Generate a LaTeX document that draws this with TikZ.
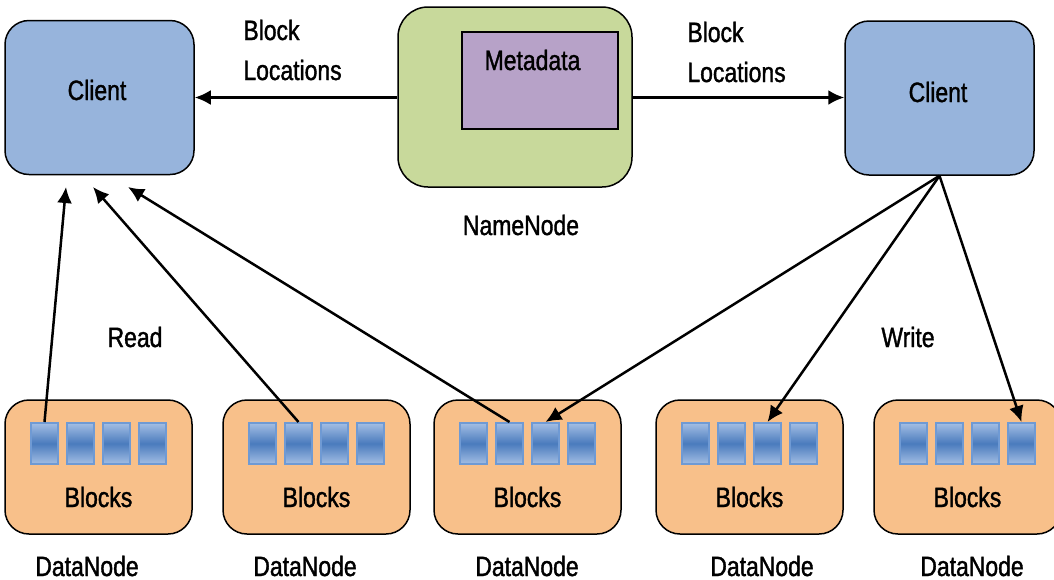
\documentclass[tikz,border=0pt]{standalone}
\usepackage{fontspec}
\setmainfont{Liberation Sans}[FakeStretch=0.82,FakeBold=1.3]
\usetikzlibrary{arrows.meta}
\definecolor{clientfill}{HTML}{97B4DC}
\definecolor{namefill}{HTML}{C8D99B}
\definecolor{metafill}{HTML}{B7A2C8}
\definecolor{datafill}{HTML}{F8C08A}
\definecolor{blkedge}{HTML}{6F9AD4}
\definecolor{blklight}{HTML}{A3BEE4}
\definecolor{blkdark}{HTML}{4A7BBD}
\tikzset{
  lbl/.style={font=\fontsize{14pt}{20pt}\selectfont, inner sep=0pt},
  clientbox/.style={draw=black, line width=0.75pt, fill=clientfill, rounded corners=12pt,
    minimum width=94.5pt, minimum height=77pt, inner sep=0pt},
  namebox/.style={draw=black, line width=0.75pt, fill=namefill, rounded corners=15pt,
    minimum width=117pt, minimum height=90pt, inner sep=0pt},
  metabox/.style={draw=black, line width=0.75pt, fill=metafill,
    minimum width=78pt, minimum height=48.5pt, inner sep=0pt},
  databox/.style={draw=black, line width=0.75pt, fill=datafill, rounded corners=12pt,
    minimum width=93.5pt, minimum height=67pt, inner sep=0pt},
  blk/.style={draw=blkedge, line width=1pt, top color=blklight, bottom color=blklight,
    middle color=blkdark, minimum width=13.5pt, minimum height=20.5pt, inner sep=0pt},
  arr/.style={line width=1.25pt, -{Latex[length=8pt,width=7.5pt]}},
}
\begin{document}
\begin{tikzpicture}[x=0.5pt,y=-0.5pt]
\useasboundingbox (0,0) rectangle (1054,579);
\clip (0,0) rectangle (1054,579);
% clients
\node[clientbox] (cl) at (99.5,97.5) {};
\node[lbl] (cltext) at (97,90) {Client};
\node[clientbox] (cr) at (939.5,98) {};
\node[lbl] (crtext) at (938,92) {Client};
% namenode
\node[namebox] (nn) at (515,97) {};
\node[metabox] (meta) at (540,80.5) {};
\node[lbl] (metatext) at (532.5,60) {Metadata};
\node[lbl] (nnlabel) at (521,225) {NameNode};
% block locations labels
\node[lbl, anchor=west, align=left] (bll) at (243,50) {Block\\Locations};
\node[lbl, anchor=west, align=left] (blr) at (687,52) {Block\\Locations};
% datanodes
\foreach \i/\cx/\lx in {1/98.5/87, 2/316.5/305, 3/527.5/527, 4/749.5/762, 5/967.5/972} {
  \node[databox] (dn\i) at (\cx,467) {};
  \foreach \j/\off in {1/-54, 2/-18, 3/18, 4/54} {
    \node[blk] (d\i b\j) at (\cx+\off,443.5) {};
  }
  \node[lbl] (dt\i) at (\cx,497) {Blocks};
  \node[lbl] (dl\i) at (\lx,566) {DataNode};
}
% read / write labels
\node[lbl] (read) at (135,337) {Read};
\node[lbl] (write) at (908,337) {Write};
% namenode arrows
\draw[arr] (nn.west |- 0,97.5) -- (cl.east |- 0,97.5);
\draw[arr] (nn.east |- 0,97.5) -- (cr.west |- 0,97.5);
% read arrows
\coordinate (t1) at (66,187);
\coordinate (t2) at (93,187);
\coordinate (t3) at (128,187);
\draw[arr] (d1b1.north) -- (t1);
\draw[arr] (d2b2.north) -- (t2);
\draw[arr] (d3b2.north) -- (t3);
% write arrows
\draw[arr] (cr.south) -- (d3b3.north);
\draw[arr] (cr.south) -- (d4b3.north);
\draw[arr] (cr.south) -- (d5b4.north);
\end{tikzpicture}
\end{document}
